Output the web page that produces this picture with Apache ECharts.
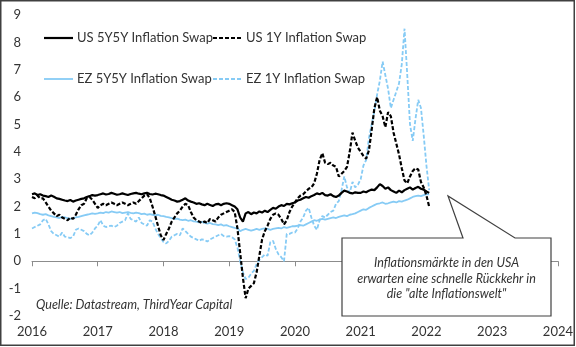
<!DOCTYPE html>
<html>
<head>
<meta charset="utf-8">
<script src="https://cdn.jsdelivr.net/npm/echarts@6/dist/echarts.min.js"></script>
<style>
  html, body { margin: 0; padding: 0; background: #fff; }
  #chart { width: 576px; height: 347px; }
</style>
</head>
<body>
<div id="chart"></div>
<script>
// Semi-monthly observations starting January 2016
const startYear = 2016;
const obsPerYear = 24;

const seriesNames = [
  'US 5Y5Y Inflation Swap',
  'US 1Y Inflation Swap',
  'EZ 5Y5Y Inflation Swap',
  'EZ 1Y Inflation Swap'
];

const yearTicks = [2016, 2017, 2018, 2019, 2020, 2021, 2022, 2023, 2024];
const valueTicks = [-2, -1, 0, 1, 2, 3, 4, 5, 6, 7, 8, 9];

// US 5Y5Y inflation swap (%)
const us5y5y = [
  // 2016
  2.45, 2.48, 2.42, 2.45, 2.40, 2.38, 2.35, 2.40, 2.36, 2.30, 2.28, 2.25,
  2.22, 2.20, 2.24, 2.18, 2.22, 2.25, 2.28, 2.30, 2.35, 2.38, 2.42, 2.40,
  // 2017
  2.42, 2.45, 2.48, 2.44, 2.46, 2.50, 2.47, 2.43, 2.45, 2.48, 2.45, 2.42,
  2.46, 2.48, 2.50, 2.47, 2.45, 2.48, 2.50, 2.46, 2.44, 2.47, 2.45, 2.42,
  // 2018
  2.40, 2.35, 2.30, 2.25, 2.22, 2.18, 2.20, 2.25, 2.30, 2.22, 2.18, 2.15,
  2.10, 2.12, 2.08, 2.05, 2.10, 2.06, 2.02, 2.08, 2.10, 2.05, 2.10, 2.12,
  // 2019
  2.10, 2.05, 2.00, 1.90, 1.60, 1.45, 1.75, 1.80, 1.72, 1.78, 1.75, 1.82,
  1.78, 1.85, 1.80, 1.88, 1.95, 1.92, 2.00, 2.05, 2.02, 2.10, 2.08, 2.12,
  // 2020
  2.15, 2.22, 2.25, 2.30, 2.35, 2.32, 2.38, 2.42, 2.48, 2.45, 2.50, 2.42,
  2.40, 2.45, 2.38, 2.35, 2.40, 2.50, 2.58, 2.55, 2.50, 2.48, 2.52, 2.50,
  // 2021
  2.50, 2.55, 2.52, 2.58, 2.62, 2.60, 2.70, 2.82, 2.75, 2.65, 2.70, 2.60,
  2.55, 2.50, 2.58, 2.52, 2.60, 2.65, 2.70, 2.62, 2.68, 2.72, 2.65, 2.62,
  // 2022
  2.55, 2.50
];

// US 1Y inflation swap (%)
const us1y = [
  // 2016
  2.35, 2.30, 2.40, 2.30, 2.30, 2.15, 2.00, 1.85, 1.75, 1.65, 1.70, 1.60,
  1.55, 1.50, 1.60, 1.55, 1.70, 1.90, 2.05, 2.10, 2.30, 2.35, 2.25, 2.10,
  // 2017
  1.95, 2.05, 2.10, 2.05, 2.10, 2.15, 2.10, 2.05, 2.10, 2.15, 2.10, 2.05,
  2.10, 2.15, 2.10, 2.20, 2.30, 2.40, 2.45, 2.30, 2.00, 1.65, 1.30, 0.95,
  // 2018
  0.78, 1.00, 1.20, 1.45, 1.60, 1.75, 1.85, 2.00, 2.10, 2.05, 1.80, 1.60,
  1.50, 1.45, 1.40, 1.45, 1.40, 1.55, 1.50, 1.45, 1.60, 1.70, 1.75, 1.80,
  // 2019
  1.85, 1.90, 1.80, 1.20, 0.30, -0.60, -1.35, -1.00, -0.90, -0.80, -0.40, 0.20,
  0.80, 1.10, 1.30, 1.55, 1.70, 1.75, 1.70, 1.55, 1.35, 1.50, 1.80, 2.00,
  // 2020
  2.15, 2.30, 2.40, 2.45, 2.55, 2.65, 2.70, 2.85, 3.20, 3.70, 3.95, 3.60,
  3.55, 3.60, 3.50, 3.45, 3.10, 3.20, 3.30, 3.45, 4.00, 4.70, 4.40, 4.15,
  // 2021
  4.00, 3.85, 3.75, 4.05, 4.80, 5.60, 6.00, 5.50, 5.30, 4.90, 5.45, 5.30,
  4.70, 4.30, 3.90, 3.40, 2.95, 2.85, 3.10, 3.30, 3.40, 3.35, 2.90, 2.70,
  // 2022
  2.40, 2.00
];

// Euro area 5Y5Y inflation swap (%)
const ez5y5y = [
  // 2016
  1.75, 1.78, 1.76, 1.72, 1.70, 1.72, 1.68, 1.65, 1.62, 1.60, 1.58, 1.62,
  1.60, 1.58, 1.55, 1.58, 1.60, 1.62, 1.65, 1.68, 1.70, 1.72, 1.75, 1.73,
  // 2017
  1.75, 1.78, 1.76, 1.80, 1.78, 1.82, 1.80, 1.78, 1.80, 1.76, 1.78, 1.80,
  1.77, 1.75, 1.78, 1.76, 1.72, 1.74, 1.70, 1.72, 1.70, 1.68, 1.70, 1.66,
  // 2018
  1.65, 1.62, 1.60, 1.58, 1.55, 1.56, 1.52, 1.50, 1.52, 1.48, 1.50, 1.46,
  1.45, 1.42, 1.44, 1.40, 1.38, 1.40, 1.36, 1.35, 1.32, 1.35, 1.30, 1.32,
  // 2019
  1.28, 1.25, 1.22, 1.20, 1.10, 1.15, 1.18, 1.15, 1.12, 1.15, 1.18, 1.15,
  1.18, 1.20, 1.18, 1.15, 1.18, 1.20, 1.22, 1.20, 1.25, 1.22, 1.25, 1.28,
  // 2020
  1.28, 1.30, 1.32, 1.30, 1.35, 1.40, 1.45, 1.50, 1.48, 1.52, 1.55, 1.52,
  1.55, 1.58, 1.60, 1.58, 1.62, 1.65, 1.68, 1.65, 1.70, 1.72, 1.75, 1.80,
  // 2021
  1.85, 1.90, 1.88, 1.95, 2.00, 2.05, 2.10, 2.12, 2.15, 2.10, 2.12, 2.15,
  2.18, 2.15, 2.20, 2.18, 2.22, 2.25, 2.30, 2.35, 2.38, 2.40, 2.38, 2.42,
  // 2022
  2.45, 2.45
];

// Euro area 1Y inflation swap (%)
const ez1y = [
  // 2016
  1.20, 1.25, 1.30, 1.35, 1.50, 1.55, 1.35, 1.10, 1.00, 0.95, 0.90, 1.05,
  0.90, 0.88, 0.85, 0.90, 1.15, 1.20, 1.15, 1.10, 1.00, 0.95, 1.05, 1.20,
  // 2017
  1.30, 1.50, 1.30, 1.25, 1.28, 1.30, 1.25, 1.30, 1.40, 1.45, 1.50, 1.75,
  1.55, 1.50, 1.45, 1.60, 1.40, 1.35, 1.30, 1.50, 1.45, 1.20, 1.00, 0.85,
  // 2018
  0.70, 0.65, 0.75, 0.90, 0.95, 1.00, 0.95, 1.20, 1.10, 1.00, 0.90, 0.85,
  0.80, 0.75, 0.80, 0.78, 0.72, 0.80, 0.85, 0.90, 0.95, 1.00, 0.92, 0.90,
  // 2019
  0.92, 0.88, 0.80, 0.50, 0.00, -0.40, -0.65, -0.60, -0.45, -0.35, -0.10, 0.05,
  0.15, 0.25, 0.20, 0.70, 0.75, 0.45, 0.25, 0.15, 0.00, 1.00, 1.00, 1.05,
  // 2020
  1.05, 1.20, 1.45, 1.60, 1.85, 1.95, 1.60, 1.30, 1.15, 1.50, 1.65, 1.60,
  1.70, 1.80, 1.85, 2.10, 2.20, 2.60, 3.10, 2.70, 2.50, 2.90, 2.70, 2.80,
  // 2021
  3.00, 3.50, 3.70, 4.50, 5.00, 5.50, 6.10, 6.60, 7.30, 6.80, 6.30, 5.60,
  5.90, 6.20, 6.50, 7.20, 8.50, 6.80, 5.00, 4.40, 5.20, 5.90, 5.60, 4.60,
  // 2022
  3.50, 2.60
];

const usColor = '#000000';
const ezColor = '#86CBF5';
const textColor = '#333333';
const fontFamily = 'Lato, "Open Sans", sans-serif';
const dash = [4, 2];

function toPairs(values) {
  return values.map((v, i) => [startYear + i / obsPerYear, v]);
}

// Legend entries: sample line + label
function legendEntry(x, y, name, color, width, dashed) {
  return [
    {
      type: 'line', z: 11,
      shape: { x1: x, y1: y, x2: x + 29, y2: y },
      style: { stroke: color, lineWidth: width, lineDash: dashed ? dash : null }
    },
    {
      type: 'text', z: 11, x: x + 33, y: y,
      style: {
        text: name, fill: textColor, fontSize: 13, fontFamily: fontFamily,
        align: 'left', verticalAlign: 'middle'
      }
    }
  ];
}

const chart = echarts.init(document.getElementById('chart'), null, { renderer: 'canvas' });

chart.setOption({
  animation: false,
  backgroundColor: '#ffffff',
  grid: { left: 32, right: 17, top: 15, bottom: 31, containLabel: false },
  xAxis: [
    {
      // zero line with year ticks
      type: 'value',
      min: yearTicks[0],
      max: yearTicks[yearTicks.length - 1],
      interval: 1,
      position: 'bottom',
      axisLine: { show: true, onZero: true, lineStyle: { color: '#8c8c8c', width: 1 } },
      axisTick: { show: true, length: 5, lineStyle: { color: '#8c8c8c' } },
      axisLabel: { show: false },
      splitLine: { show: false }
    },
    {
      // year labels along the bottom
      type: 'value',
      min: yearTicks[0],
      max: yearTicks[yearTicks.length - 1],
      interval: 1,
      position: 'bottom',
      axisLine: { show: false, onZero: false },
      axisTick: { show: false },
      splitLine: { show: false },
      axisLabel: {
        show: true,
        margin: 9,
        color: textColor,
        fontSize: 13,
        fontFamily: fontFamily,
        formatter: v => yearTicks.includes(v) ? String(v) : ''
      }
    }
  ],
  yAxis: {
    type: 'value',
    min: valueTicks[0],
    max: valueTicks[valueTicks.length - 1],
    interval: 1,
    axisLine: { show: false },
    axisTick: { show: false },
    splitLine: { show: false },
    axisLabel: { margin: 11, color: textColor, fontSize: 13, fontFamily: fontFamily }
  },
  series: [
    {
      name: seriesNames[2], type: 'line', xAxisIndex: 0, symbol: 'none',
      data: toPairs(ez5y5y), z: 2,
      lineStyle: { color: ezColor, width: 1.8 }, itemStyle: { color: ezColor }
    },
    {
      name: seriesNames[3], type: 'line', xAxisIndex: 0, symbol: 'none',
      data: toPairs(ez1y), z: 2,
      lineStyle: { color: ezColor, width: 1.8, type: dash }, itemStyle: { color: ezColor }
    },
    {
      name: seriesNames[0], type: 'line', xAxisIndex: 0, symbol: 'none',
      data: toPairs(us5y5y), z: 3,
      lineStyle: { color: usColor, width: 2.2 }, itemStyle: { color: usColor }
    },
    {
      name: seriesNames[1], type: 'line', xAxisIndex: 0, symbol: 'none',
      data: toPairs(us1y), z: 3,
      lineStyle: { color: usColor, width: 2.2, type: dash }, itemStyle: { color: usColor }
    }
  ],
  graphic: [].concat(
    legendEntry(44, 38, seriesNames[0], usColor, 2.2, false),
    legendEntry(213, 38, seriesNames[1], usColor, 2.2, true),
    legendEntry(44, 79, seriesNames[2], ezColor, 1.8, false),
    legendEntry(213, 79, seriesNames[3], ezColor, 1.8, true),
    [
      {
        // callout box pointing at the latest readings
        type: 'polygon',
        z: 10,
        shape: {
          points: [[342, 238], [463, 238], [448, 196], [515, 238], [551, 238], [551, 316], [342, 316]]
        },
        style: { fill: '#ffffff', stroke: '#404040', lineWidth: 1.2 }
      },
      {
        type: 'text', z: 11, x: 446.5, y: 278.5,
        style: {
          text: 'Inflationsmärkte in den USA\nerwarten eine schnelle Rückkehr in\ndie "alte Inflationswelt"',
          fill: textColor, fontSize: 12.5, fontStyle: 'italic', fontFamily: fontFamily,
          align: 'center', verticalAlign: 'middle', lineHeight: 15.5
        }
      },
      {
        type: 'text', z: 11, x: 36, y: 305,
        style: {
          text: 'Quelle: Datastream, ThirdYear Capital',
          fill: textColor, fontSize: 12.5, fontStyle: 'italic', fontFamily: fontFamily,
          align: 'left', verticalAlign: 'middle'
        }
      },
      {
        // chart frame
        type: 'rect', z: 12,
        shape: { x: 0.75, y: 0.75, width: 573.5, height: 344.5 },
        style: { fill: 'none', stroke: '#404040', lineWidth: 1.5 }
      }
    ]
  )
});
</script>
</body>
</html>
